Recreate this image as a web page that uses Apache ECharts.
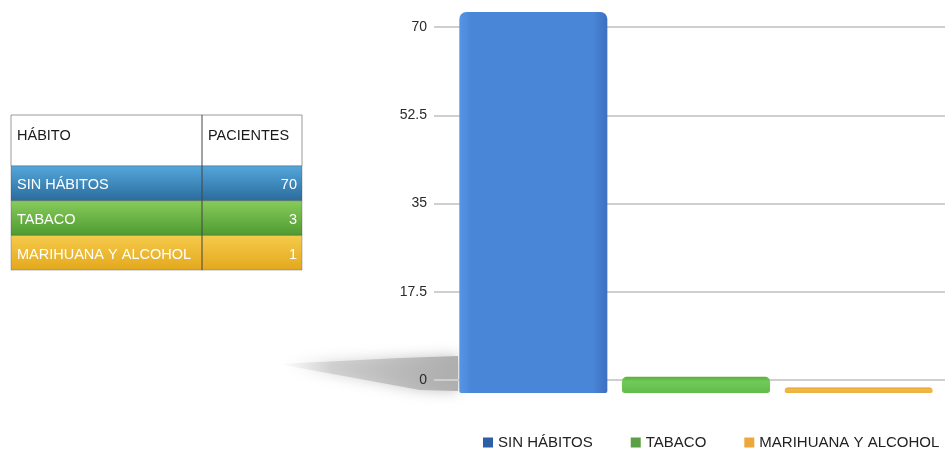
<!DOCTYPE html>
<html>
<head>
<meta charset="utf-8">
<title>Hábitos de los pacientes</title>
<script src="https://cdn.jsdelivr.net/npm/echarts@6/dist/echarts.min.js"></script>
<style>
  html, body { margin: 0; padding: 0; background: #fff; }
  #chart { width: 947px; height: 455px; }
</style>
</head>
<body>
<div id="chart"></div>
<script>
// Datos
const categories = ['SIN HÁBITOS', 'TABACO', 'MARIHUANA Y ALCOHOL'];
const patients = [70, 3, 1];
const yTicks = [0, 17.5, 35, 52.5, 70];
const tableHeader = ['HÁBITO', 'PACIENTES'];

// Colores por hábito
const barColors = [
  ['#5595e6', '#4a86d8', '#3d6fc0'],
  ['#5aac3e', '#6fcb58', '#62bc4c'],
  ['#e09a20', '#f2b848', '#eab040']
];
const legendColors = ['#2d5fa6', '#5aa046', '#eca83c'];
const rowColors = [
  ['#55a7dc', '#2a6b9c'],
  ['#88cc5c', '#4e9a30'],
  ['#f5cb4c', '#e3a81c']
];

const FONT = '"Liberation Sans", Arial, sans-serif';
const TEXT_SIZE = 14.5;

const chart = echarts.init(document.getElementById('chart'), null, { renderer: 'canvas' });

// Tabla de la izquierda
function buildTable() {
  const x0 = 11, x1 = 302, xc = 202;
  const headTop = 115, headH = 51, rowH = 34.7;
  const font = TEXT_SIZE + 'px ' + FONT;
  const els = [];
  els.push({
    type: 'rect', shape: { x: x0, y: headTop, width: x1 - x0, height: headH },
    style: { fill: '#fff', stroke: '#9a9a9a', lineWidth: 1 }
  });
  els.push({ type: 'text', x: x0 + 6, y: headTop + 21,
    style: { text: tableHeader[0], font: font, fill: '#1a1a1a', verticalAlign: 'middle' } });
  els.push({ type: 'text', x: xc + 6, y: headTop + 21,
    style: { text: tableHeader[1], font: font, fill: '#1a1a1a', verticalAlign: 'middle' } });
  categories.forEach((c, i) => {
    const y = headTop + headH + i * rowH;
    els.push({
      type: 'rect', shape: { x: x0, y: y, width: x1 - x0, height: rowH },
      style: {
        fill: new echarts.graphic.LinearGradient(0, 0, 0, 1, [
          { offset: 0, color: rowColors[i][0] },
          { offset: 1, color: rowColors[i][1] }
        ]),
        stroke: 'rgba(60,60,60,0.3)', lineWidth: 1
      }
    });
    els.push({ type: 'text', x: x0 + 6, y: y + rowH / 2 + 2,
      style: { text: c, font: font, fill: '#ffffff', verticalAlign: 'middle' } });
    els.push({ type: 'text', x: x1 - 5, y: y + rowH / 2 + 2,
      style: { text: String(patients[i]), font: font, fill: '#ffffff',
        align: 'right', verticalAlign: 'middle' } });
  });
  els.push({
    type: 'line', shape: { x1: xc, y1: headTop, x2: xc, y2: headTop + headH + rowH * categories.length },
    style: { stroke: '#444', lineWidth: 1 }
  });
  return els;
}

// Sombra sobre el suelo, a la izquierda de la primera barra
const floorShadow = {
  type: 'polygon', z: -1,
  shape: { points: [[278, 364], [400, 358], [458, 356], [458, 391], [420, 390]] },
  style: {
    fill: new echarts.graphic.LinearGradient(0, 0, 1, 0, [
      { offset: 0, color: 'rgba(200,200,200,0)' },
      { offset: 0.3, color: 'rgba(188,188,188,0.55)' },
      { offset: 1, color: 'rgba(172,172,172,0.95)' }
    ]),
    shadowBlur: 14, shadowColor: 'rgba(180,180,180,0.9)'
  }
};

const series = categories.map((name, k) => ({
  name: name,
  type: 'bar',
  stack: 'habitos',
  xAxisIndex: 1,
  yAxisIndex: 1,
  barCategoryGap: '9%',
  z: 3,
  data: categories.map((_, i) => (i === k ? patients[k] : '-')),
  itemStyle: {
    borderRadius: k === 0 ? [7, 7, 2, 2] : [5, 5, 3, 3],
    color: k === 0
      ? new echarts.graphic.LinearGradient(0, 0, 1, 0, [
          { offset: 0, color: barColors[k][0] },
          { offset: 0.08, color: barColors[k][1] },
          { offset: 0.9, color: barColors[k][1] },
          { offset: 1, color: barColors[k][2] }
        ])
      : new echarts.graphic.LinearGradient(0, 0, 0, 1, [
          { offset: 0, color: barColors[k][0] },
          { offset: 0.3, color: barColors[k][1] },
          { offset: 1, color: barColors[k][2] }
        ])
  }
}));

const option = {
  animation: false,
  backgroundColor: '#ffffff',
  textStyle: { fontFamily: FONT },
  grid: [
    // Rejilla con el eje de valores
    { left: 434, right: 2, top: 27, bottom: 75 },
    // Rejilla de las barras
    { left: 452, right: 7, top: 12, bottom: 62 }
  ],
  xAxis: [
    { gridIndex: 0, type: 'category', data: categories, show: false },
    { gridIndex: 1, type: 'category', data: categories, show: false }
  ],
  yAxis: [
    {
      gridIndex: 0, type: 'value',
      min: yTicks[0], max: yTicks[yTicks.length - 1], interval: yTicks[1] - yTicks[0],
      axisLine: { show: false }, axisTick: { show: false },
      axisLabel: { color: '#2a2a2a', fontSize: 14, margin: 7, fontFamily: FONT },
      splitLine: { lineStyle: { color: '#cfcfcf', width: 2 } }
    },
    {
      gridIndex: 1, type: 'value',
      min: yTicks[0], max: yTicks[yTicks.length - 1],
      show: false, splitLine: { show: false }
    }
  ],
  legend: {
    left: 483, top: 435, right: 0, padding: 0,
    icon: 'rect', itemWidth: 10, itemHeight: 10, itemGap: 38,
    textStyle: { fontSize: 15, color: '#222', fontFamily: FONT },
    data: categories.map((c, i) => ({ name: c, itemStyle: { color: legendColors[i] } }))
  },
  graphic: [floorShadow].concat(buildTable()),
  series: series
};

chart.setOption(option);
</script>
</body>
</html>
